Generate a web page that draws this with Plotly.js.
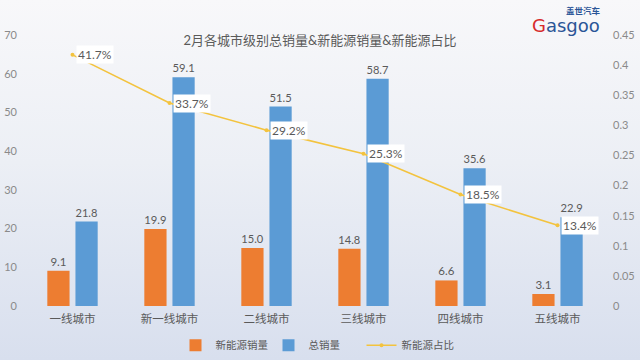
<!DOCTYPE html>
<html>
<head>
<meta charset="utf-8">
<script src="https://cdn.plot.ly/plotly-3.0.1.min.js"></script>
<style>
html,body{margin:0;padding:0;}
#chart{width:640px;height:360px;background:linear-gradient(180deg,#f8f8fa 0%,#eceff5 45%,#d8dfee 100%);}
</style>
</head>
<body>
<div id="chart"></div>
<script>
const cities = ['一线城市','新一线城市','二线城市','三线城市','四线城市','五线城市'];
const nevSales = [9.1, 19.9, 15.0, 14.8, 6.6, 3.1];
const totalSales = [21.8, 59.1, 51.5, 58.7, 35.6, 22.9];
const nevShare = [0.417, 0.337, 0.292, 0.253, 0.185, 0.134];
const seriesNames = ['新能源销量', '总销量', '新能源占比'];
const chartTitle = '2月各城市级别总销量&新能源销量&新能源占比';

const font = 'Lato, "Noto Sans CJK SC", sans-serif';
const txt = '#5a5a5a';

const traces = [
  {type:'bar', name:seriesNames[0], x:cities, y:nevSales,
   marker:{color:'#ED7D31'}, texttemplate:'%{y:.1f}', textposition:'outside',
   textfont:{size:11.5,color:txt}, cliponaxis:false},
  {type:'bar', name:seriesNames[1], x:cities, y:totalSales,
   marker:{color:'#5B9BD5'}, texttemplate:'%{y:.1f}', textposition:'outside',
   textfont:{size:11.5,color:txt}, cliponaxis:false},
  {type:'scatter', mode:'lines+markers', name:seriesNames[2], x:cities, y:nevShare, yaxis:'y2',
   line:{color:'#F3C33E', width:1.6}, marker:{color:'#F3C33E', size:4}}
];

const annotations = cities.map((c,i)=>({
  x:c, y:nevShare[i], xref:'x', yref:'y2', xanchor:'left', yanchor:'middle', xshift:3,
  text:(nevShare[i]*100).toFixed(1)+'%', showarrow:false, bgcolor:'#ffffff',
  borderpad:1, font:{size:12,color:txt,family:font}
}));
annotations.push(
  {xref:'paper', yref:'paper', x:0.962, y:1.09, xanchor:'center', yanchor:'middle', text:'<b>盖世汽车</b>',
   showarrow:false, font:{size:8.5,color:'#2b5597',family:font}},
  {xref:'paper', yref:'paper', x:0.932, y:1.035, xanchor:'center', yanchor:'middle', text:'<span style="color:#d62b2b">G</span>asgoo',
   showarrow:false, font:{size:18,color:'#2b5597',family:'"DejaVu Sans", sans-serif'}}
);

const layout = {
  width:640, height:360,
  paper_bgcolor:'rgba(0,0,0,0)', plot_bgcolor:'rgba(0,0,0,0)',
  margin:{l:24, r:34, t:35, b:54, autoexpand:false},
  font:{family:font, color:txt},
  title:{text:chartTitle, x:0.5, xanchor:'center', y:0.887, yanchor:'middle', font:{size:13,color:txt,family:font}},
  barmode:'group', bargap:0.42, bargroupgap:0.21,
  showlegend:true,
  legend:{orientation:'h', x:0.5, xanchor:'center', y:-0.145, yanchor:'middle', font:{size:10.5,color:txt},
          itemwidth:30, entrywidth:48, entrywidthmode:'pixels', tracegroupgap:0},
  xaxis:{type:'category', showline:false, ticks:'', tickfont:{size:11.5,color:txt}, showgrid:false, ticklabelstandoff:4},
  yaxis:{range:[0,70], dtick:10, showgrid:false, zeroline:false, tickfont:{size:11,color:'#8a8a8a'}, ticklabelstandoff:6},
  yaxis2:{range:[0,0.45], dtick:0.05, overlaying:'y', side:'right', showgrid:false, zeroline:false, tickfont:{size:11,color:'#8a8a8a'}, ticklabelstandoff:6},
  annotations:annotations
};

Plotly.newPlot('chart', traces, layout, {displayModeBar:false, staticPlot:true});
</script>
</body>
</html>
